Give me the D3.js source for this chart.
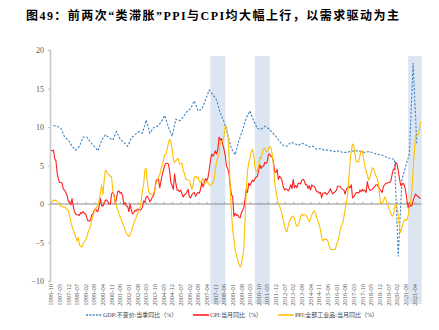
<!DOCTYPE html>
<html><head><meta charset="utf-8">
<script src="https://cdn.jsdelivr.net/npm/d3@7"></script>
<style>body{margin:0;background:#fff;} svg{display:block;}</style>
</head><body>
<svg id="c" width="439" height="330"></svg>
<script>
const title = "图49：前两次“类滞胀”PPI与CPI均大幅上行，以需求驱动为主";
const seriesNames = ["GDP:不变价:当季同比（%）", "CPI:当月同比（%）", "PPI:全部工业品:当月同比（%）"];
const firstMonth = "1996-10";
const lastMonth = "2021-09";
const xTickLabels = ["1996-10","1997-05","1997-12","1998-07","1999-02","1999-09","2000-04","2000-11","2001-06","2002-01","2002-08","2003-03","2003-10","2004-05","2004-12","2005-07","2006-02","2006-09","2007-04","2007-11","2008-06","2009-01","2009-08","2010-03","2010-10","2011-05","2011-12","2012-07","2013-02","2013-09","2014-04","2014-11","2015-06","2016-01","2016-08","2017-03","2017-10","2018-05","2018-12","2019-07","2020-02","2020-09","2021-04"];
const yTicks = [-10, -5, 0, 5, 10, 15, 20];
const shadePeriods = [["2007-07","2008-07"],["2010-07","2011-07"],["2020-11","2021-10"]];

// CPI monthly YoY, 1996-10 .. 2021-09
const cpi = [
7.0,6.9,7.0,
5.9,5.6,4.0,3.2,2.8,2.8,2.7,1.9,1.8,1.5,1.1,0.4,
0.3,-0.1,0.7,-0.3,-1.0,-1.3,-1.4,-1.4,-1.5,-1.1,-1.2,-1.0,
-1.2,-1.3,-1.8,-2.2,-2.2,-2.1,-1.4,-1.3,-0.8,-0.6,-0.9,-1.0,
-0.2,0.7,-0.2,-0.3,0.1,0.5,0.5,0.3,0.0,0.0,1.3,1.5,
1.2,0.0,0.8,1.6,1.7,1.4,1.5,1.0,-0.1,0.2,-0.3,-0.3,
-1.0,0.0,-0.8,-1.3,-1.1,-0.8,-0.9,-0.7,-0.7,-0.8,-0.7,-0.4,
0.4,0.2,0.9,1.0,0.7,0.3,0.5,0.9,1.1,1.8,3.0,3.2,
3.2,2.1,3.0,3.8,4.4,5.0,5.3,5.3,5.2,4.3,2.8,2.4,
1.9,3.9,2.7,1.8,1.8,1.6,1.8,1.3,0.9,1.2,1.3,1.6,
1.9,0.9,0.8,1.2,1.4,1.5,1.0,1.3,1.5,1.4,1.9,2.8,
2.2,2.7,3.3,3.0,3.4,4.4,5.6,6.5,6.2,6.5,6.9,6.5,
7.1,8.7,8.3,8.5,7.7,7.1,6.3,4.9,4.6,4.0,2.4,1.2,
1.0,-1.6,-1.2,-1.5,-1.4,-1.7,-1.8,-1.2,-0.8,-0.5,0.6,1.9,
1.5,2.7,2.4,2.8,3.1,2.9,3.3,3.5,3.6,4.4,5.1,4.6,
4.9,4.9,5.4,5.3,5.5,6.4,6.5,6.2,6.1,5.5,4.2,4.1,
4.5,3.2,3.6,3.4,3.0,2.2,1.8,2.0,1.9,1.7,2.0,2.5,
2.0,3.2,2.1,2.4,2.1,2.7,2.7,2.6,3.1,3.2,3.0,2.5,
2.5,2.0,2.4,1.8,2.5,2.3,2.3,2.0,1.6,1.6,1.4,1.5,
0.8,1.4,1.4,1.5,1.2,1.4,1.6,2.0,1.6,1.3,1.5,1.6,
1.8,2.3,2.3,2.3,2.0,1.9,1.8,1.3,1.9,2.1,2.3,2.1,
2.5,0.8,0.9,1.2,1.5,1.5,1.4,1.8,1.6,1.9,1.7,1.8,
1.5,2.9,2.1,1.8,1.8,1.9,2.1,2.3,2.5,2.5,2.2,1.9,
1.7,1.5,2.3,2.5,2.7,2.7,2.8,2.8,3.0,3.8,4.5,4.5,
5.4,5.2,4.3,3.3,2.4,2.5,2.7,2.4,1.7,0.5,-0.5,0.2,
-0.3,-0.2,0.4,0.9,1.3,1.1,1.0,0.8,0.7];

// PPI monthly YoY, 1996-10 .. 2021-09
const ppi = [
0.2,0.3,0.5,
0.45,0.5,0.3,0.1,-0.1,-0.3,-0.3,-0.4,-0.4,-0.5,-0.7,-0.9,
-1.5,-2.3,-2.9,-3.4,-3.8,-4.4,-4.8,-4.3,-5.3,-5.5,-5.6,-5.1,
-4.9,-4.7,-4.2,-3.7,-3.3,-2.8,-2.1,-1.5,-1.0,-0.6,-0.4,-0.2,
0.5,1.4,2.5,1.2,3.0,4.4,4.2,3.9,3.8,3.6,3.5,1.8,
1.0,0.3,-0.2,-0.8,-1.3,-1.7,-2.1,-2.5,-2.9,-3.4,-3.8,-4.0,
-4.2,-4.0,-3.6,-3.0,-2.5,-2.1,-1.7,-1.3,-1.0,-0.4,0.4,1.7,
2.6,4.5,4.6,2.8,1.7,1.3,1.3,1.2,1.4,1.8,2.7,3.1,
3.5,3.8,4.5,5.0,5.7,6.4,6.4,7.1,7.9,8.4,8.1,7.1,
5.8,5.4,5.6,5.8,5.9,5.2,5.2,5.3,4.3,4.0,3.2,3.2,
3.1,3.0,2.5,1.9,2.4,3.5,3.6,3.4,3.5,2.9,2.8,3.1,
3.3,2.6,2.7,2.9,2.8,2.5,2.4,2.6,2.7,3.2,4.6,5.4,
6.1,6.6,8.0,8.1,8.2,8.8,10.0,10.1,9.1,6.6,2.0,-1.1,
-3.3,-4.5,-6.0,-6.6,-7.2,-7.8,-8.2,-7.9,-7.0,-5.8,-2.1,1.7,
4.3,5.4,5.9,6.8,7.1,6.4,4.8,4.3,4.3,5.0,6.1,5.9,
6.6,7.2,7.3,6.8,6.8,7.1,7.5,7.3,6.5,5.0,2.7,1.7,
0.7,0.0,-0.3,-0.7,-1.4,-2.1,-2.9,-3.5,-3.6,-2.8,-2.2,-1.9,
-1.6,-1.6,-1.9,-2.6,-2.9,-2.7,-2.3,-1.6,-1.3,-1.5,-1.4,-1.4,
-1.6,-2.0,-2.3,-2.0,-1.4,-1.1,-0.9,-1.2,-1.8,-2.2,-2.7,-3.3,
-4.3,-4.8,-4.6,-4.6,-4.6,-4.8,-5.4,-5.9,-5.9,-5.9,-5.9,-5.9,
-5.3,-4.9,-4.3,-3.4,-2.8,-2.6,-1.7,-0.8,0.1,1.2,3.3,5.5,
6.9,7.8,7.6,6.4,5.5,5.5,5.5,6.3,6.9,6.9,5.8,4.9,
4.3,3.7,3.1,3.4,4.1,4.7,4.6,4.1,3.6,3.3,2.7,0.9,
0.1,0.1,0.4,0.9,0.6,0.0,-0.3,-0.8,-1.2,-1.6,-1.4,-0.5,
0.1,-0.4,-1.5,-3.1,-3.7,-3.0,-2.4,-2.0,-2.1,-2.1,-1.5,-0.4,
0.3,1.7,4.4,6.8,9.0,8.8,9.0,9.5,10.7];

// GDP quarterly YoY, 1996Q4 .. 2021Q2 (plotted at quarter-end month)
const gdpFirstQuarterEnd = "1996-12";
const gdp = [
10.2,
10.1,9.8,8.7,8.3,
7.5,7.0,7.5,8.7,
8.7,8.0,7.5,6.9,
8.3,9.0,8.6,8.3,
9.4,8.4,8.0,7.5,
8.6,9.0,9.4,9.2,
10.9,9.2,9.9,10.1,
10.6,11.5,10.0,8.8,
11.0,10.8,11.3,12.0,
12.4,13.4,12.1,12.3,
13.5,14.8,14.2,13.5,
11.8,10.7,9.0,7.2,
6.4,8.2,9.6,11.2,
12.1,10.8,9.8,9.7,
10.1,9.8,9.3,8.8,
8.1,7.6,7.5,8.0,
7.9,7.6,7.9,7.7,
7.4,7.5,7.1,7.2,
7.0,7.0,6.9,6.8,
6.9,6.7,6.7,6.8,
6.9,6.9,6.8,6.7,
6.8,6.7,6.5,6.4,
6.3,6.0,5.9,5.8,
-6.8,3.2,4.9,6.5,
18.3,7.9];

const colors = {gdp:"#3d85c6", cpi:"#ff1f1f", ppi:"#ffc000", shade:"#dce6f2"};

function monthIndex(ym){
  const [y,m] = ym.split("-").map(Number);
  const [y0,m0] = firstMonth.split("-").map(Number);
  return (y-y0)*12 + (m-m0);
}

const svg = d3.select("#c");
const x = d3.scaleLinear().domain([0, monthIndex(lastMonth)]).range([51, 420.5]);
const y = d3.scaleLinear().domain([-10, 20]).range([281, 50]);
const serif = "'Liberation Serif','Times New Roman','Noto Sans CJK SC',serif";

// title
svg.append("text").attr("x", 26).attr("y", 20)
  .attr("font-family", serif).attr("font-weight", "bold").attr("font-size", 12)
  .attr("textLength", 373).attr("lengthAdjust", "spacing")
  .attr("fill", "#000").text(title);

// shaded periods
svg.append("g").selectAll("rect").data(shadePeriods).join("rect")
  .attr("x", d => x(monthIndex(d[0])))
  .attr("width", d => x(monthIndex(d[1])) - x(monthIndex(d[0])))
  .attr("y", 56).attr("height", 248)
  .attr("fill", colors.shade);

// y axis
const yAxis = svg.append("g").attr("transform", "translate(50,0)")
  .call(d3.axisLeft(y).tickValues(yTicks).tickSize(2).tickPadding(4).tickFormat(d3.format("d")));
yAxis.select(".domain").attr("stroke", "#c8c8c8").attr("stroke-width", 1.6);
yAxis.selectAll(".tick line").attr("stroke", "#c8c8c8");
yAxis.selectAll(".tick text").attr("font-family", serif).attr("font-size", 8).attr("fill", "#595959");

// zero line + x ticks
const xAxis = svg.append("g").attr("transform", `translate(0,${y(0)})`)
  .call(d3.axisTop(x).tickValues(xTickLabels.map(monthIndex)).tickSize(2).tickFormat(""));
xAxis.select(".domain").attr("stroke", "#8c8c8c").attr("stroke-width", 1.2)
  .attr("d", `M${x(0)-1},0H${x(monthIndex(lastMonth))+1}`);
xAxis.selectAll(".tick line").attr("stroke", "#b0b0b0");

// x labels at bottom
svg.append("g").selectAll("text").data(xTickLabels).join("text")
  .attr("transform", d => `translate(${x(monthIndex(d))+2.2},284) rotate(-90)`)
  .attr("text-anchor", "end")
  .attr("font-family", serif).attr("font-size", 6.5).attr("fill", "#595959")
  .text(d => d);

// lines
const gdpStart = monthIndex(gdpFirstQuarterEnd);
const lineGdp = d3.line().x((d,i) => x(gdpStart + 3*i)).y(d => y(d));
const lineM = d3.line().x((d,i) => x(i)).y(d => y(d));

svg.append("path").datum(gdp).attr("d", lineGdp)
  .attr("fill", "none").attr("stroke", colors.gdp).attr("stroke-width", 1.1)
  .attr("stroke-dasharray", "2.2,1.6");
svg.append("path").datum(cpi).attr("d", lineM)
  .attr("fill", "none").attr("stroke", colors.cpi).attr("stroke-width", 1.1)
  .attr("stroke-linejoin", "round");
svg.append("path").datum(ppi).attr("d", lineM)
  .attr("fill", "none").attr("stroke", colors.ppi).attr("stroke-width", 1.1)
  .attr("stroke-linejoin", "round");

// legend
const legendItems = [
  {name: seriesNames[0], color: colors.gdp, dash: "2,1.3", x0: 86, w: 16},
  {name: seriesNames[1], color: colors.cpi, dash: null, x0: 193, w: 16},
  {name: seriesNames[2], color: colors.ppi, dash: null, x0: 278, w: 16}
];
const lg = svg.append("g");
legendItems.forEach(it => {
  lg.append("line").attr("x1", it.x0).attr("x2", it.x0 + it.w).attr("y1", 315).attr("y2", 315)
    .attr("stroke", it.color).attr("stroke-width", 1.6).attr("stroke-dasharray", it.dash);
  lg.append("text").attr("x", it.x0 + it.w + 1).attr("y", 317.2)
    .attr("font-family", serif).attr("font-size", 6).attr("fill", "#404040").text(it.name);
});
</script>
</body></html>
